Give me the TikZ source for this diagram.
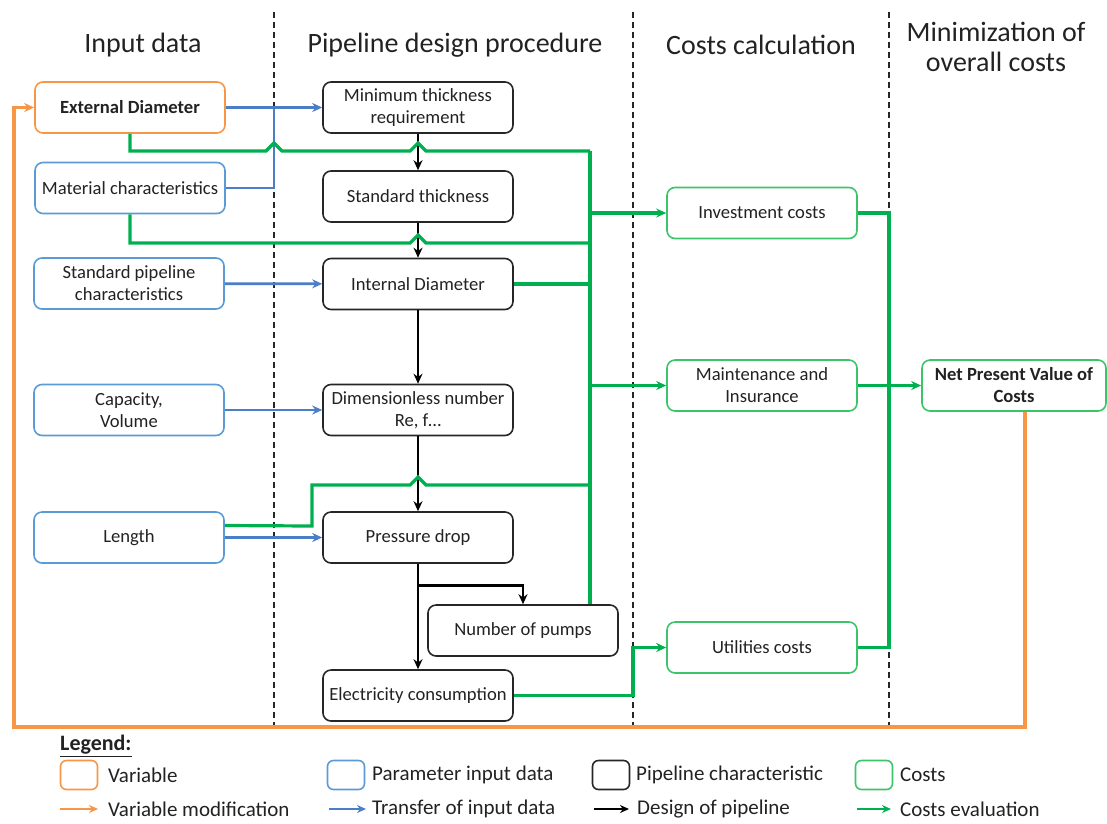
\documentclass[tikz,border=0pt]{standalone}
\usepackage{fontspec}
\setmainfont{Carlito}
\usetikzlibrary{arrows.meta,calc}
\definecolor{cor}{HTML}{F79646}
\definecolor{cbl}{HTML}{5B9BD5}
\definecolor{cbla}{HTML}{4A7EC7}
\definecolor{cgr}{HTML}{00B050}
\definecolor{cgrb}{HTML}{3CC46A}
\definecolor{ctx}{HTML}{222222}
\tikzset{
  box/.style={draw, line width=1.6pt, rounded corners=8pt, minimum width=190pt, minimum height=51pt, inner sep=0pt, align=center, font=\fontsize{18.6}{22}\selectfont, text=ctx},
  obox/.style={box, draw=cor},
  bbox/.style={box, draw=cbl},
  kbox/.style={box, draw=black!85},
  gbox/.style={box, draw=cgrb},
  hdr/.style={font=\fontsize{28}{30}\selectfont, align=center, text=ctx},
  tip/.style={-{Stealth[length=10pt,width=9pt]}},
  bline/.style={draw=cbla, line width=2.8pt},
  barrow/.style={bline, tip},
  kline/.style={draw=black, line width=2.8pt},
  karrow/.style={kline, tip},
  gline/.style={draw=cgr, line width=3.2pt},
  garrow/.style={gline, tip},
  oline/.style={draw=cor, line width=3.4pt},
  oarrow/.style={oline, tip},
  sep/.style={draw=black!85, line width=1.3pt, dash pattern=on 6pt off 4pt},
  legsq/.style={draw, line width=1.6pt, rounded corners=6pt, minimum width=37pt, minimum height=29pt, inner sep=0pt},
  legtx/.style={anchor=west, font=\fontsize{21}{24}\selectfont, text=ctx, inner sep=0pt},
  legar/.style={line width=2.6pt, -{Stealth[length=9pt,width=8pt]}},
}
\begin{document}
\begin{tikzpicture}[x=1pt,y=-1pt]
\useasboundingbox (0,0) rectangle (1107,823);
% separators
\coordinate (d1) at (274,0);
\coordinate (d2) at (633,0);
\coordinate (d3) at (889,0);
\draw[sep] (274,12) -- (274,728);
\draw[sep] (633,12) -- (633,728);
\draw[sep] (889,12) -- (889,728);
% headers
\node[hdr] (h1) at (143,45) {Input data};
\node[hdr] (h2) at (455,45) {Pipeline design procedure};
\node[hdr] (h3) at (761,45) {Costs calculation};
\node[hdr] (h4) at (996,47) {Minimization of\\overall costs};
% input boxes
\node[obox, font=\fontsize{18.6}{22}\selectfont\bfseries] (ext) at (130,107.5) {External Diameter};
\node[bbox] (mat) at (130,188) {Material characteristics};
\node[bbox] (std) at (129,283.5) {Standard pipeline\\characteristics};
\node[bbox] (cap) at (129,410) {Capacity,\\Volume};
\node[bbox] (len) at (129,537.5) {Length};
% design boxes
\node[kbox] (mt) at (418,107.5) {Minimum thickness\\requirement};
\node[kbox] (st) at (418,196.5) {Standard thickness};
\node[kbox] (id) at (418,284) {Internal Diameter};
\node[kbox] (dn) at (418,410) {Dimensionless number\\Re, f\dots};
\node[kbox] (pd) at (418,537.5) {Pressure drop};
\node[kbox] (np) at (523,630.5) {Number of pumps};
\node[kbox] (el) at (418,695.5) {Electricity consumption};
% costs
\node[gbox] (inv) at (762,213) {Investment costs};
\node[gbox] (mai) at (762,385.5) {Maintenance and\\Insurance};
\node[gbox] (ut) at (762,647.5) {Utilities costs};
\node[gbox, minimum width=184pt, font=\fontsize{18.6}{22}\selectfont\bfseries] (npv) at (1014,385.5) {Net Present Value of\\Costs};
% blue connectors
\draw[barrow] (ext) -- (mt);
\draw[bline] (mat.east) -| (274,107.5);
\draw[barrow] (std) -- (id);
\draw[barrow] (cap) -- (dn);
\draw[barrow] (len) -- (pd);
% black connectors
\draw[karrow] (mt) -- (st);
\draw[karrow] (st) -- (id);
\draw[karrow] (id) -- (dn);
\draw[karrow] (dn) -- (pd);
\draw[karrow] (pd) -- (el);
\coordinate (br) at ($(pd.south)+(0,22)$);
\draw[karrow] (br) -| (np.north);
% green connectors
\coordinate (bus) at (590,151);
\draw[gline] (ext.south) |- (266,151) -- (274,143) -- (282,151) -- (410,151) -- (418,143) -- (426,151) -- (bus);
\draw[gline] (mat.south) |- (410,243) -- (418,235) -- (426,243) -- (bus |- 0,243);
\draw[gline] (id.east) -- (bus |- id.east);
\draw[gline] ($(len.east)+(0,-12)$) -- (312,526) -- (312,485) -- (410,485) -- (418,477) -- (426,485) -- (bus |- 0,485);
\draw[gline] (bus) -- (bus |- np.north);
\draw[garrow] (bus |- inv.west) -- (inv.west);
\draw[garrow] (bus |- mai.west) -- (mai.west);
\draw[garrow] (el.east) -- (el.east -| d2) |- (ut.west);
\draw[gline] (inv.east) -- (inv.east -| d3) -- (ut.east -| d3) -- (ut.east);
\draw[garrow] (mai.east) -- (npv.west);
% orange loop
\draw[oarrow] ([xshift=11pt]npv.south) |- (14,727) |- (ext.west);
% legend
\node[anchor=west, font=\fontsize{22}{24}\selectfont\bfseries, text=ctx, inner sep=0pt] (lg) at (60,746) {\underline{Legend:}};
\node[legsq, draw=cor] (l1) at (79,775) {};
\node[legtx] (l1t) at (108,775) {Variable};
\node[legsq, draw=cbl] (l2) at (346,775) {};
\node[legtx] (l2t) at (372,775) {Parameter input data};
\node[legsq, draw=black!85] (l3) at (611,775) {};
\node[legtx] (l3t) at (636,775) {Pipeline characteristic};
\node[legsq, draw=cgrb] (l4) at (874,775) {};
\node[legtx] (l4t) at (900,775) {Costs};
\coordinate (a1) at (60,809); \coordinate (a1e) at (98,809);
\coordinate (a2) at (329,809); \coordinate (a2e) at (366,809);
\coordinate (a3) at (594,809); \coordinate (a3e) at (629,809);
\coordinate (a4) at (857,809); \coordinate (a4e) at (891,809);
\draw[legar, draw=cor] (a1) -- (a1e);
\draw[legar, draw=cbla] (a2) -- (a2e);
\draw[legar, draw=black] (a3) -- (a3e);
\draw[legar, draw=cgr] (a4) -- (a4e);
\node[legtx] (m1) at (108,809) {Variable modification};
\node[legtx] (m2) at (372,809) {Transfer of input data};
\node[legtx] (m3) at (637,809) {Design of pipeline};
\node[legtx] (m4) at (900,809) {Costs evaluation};
\end{tikzpicture}
\end{document}
